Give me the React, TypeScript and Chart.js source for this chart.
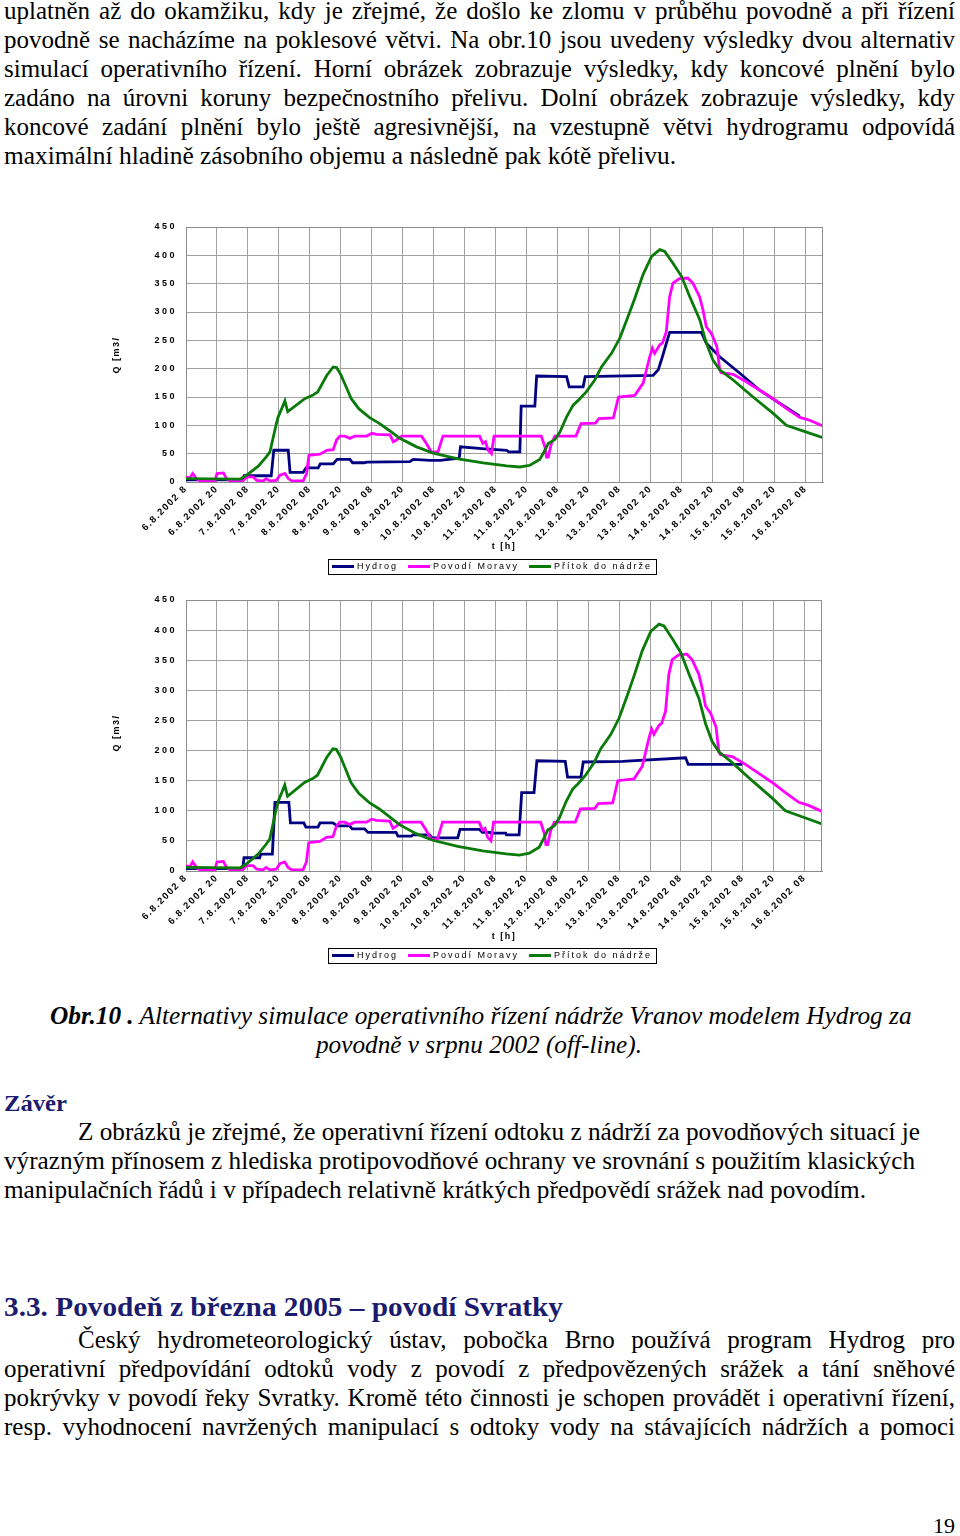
import React, { useEffect, useRef } from 'react';
import { Chart, registerables } from 'chart.js';

Chart.register(...registerables);

const SERIF = '"Liberation Serif", "Times New Roman", Times, serif';
const SANS = '"Liberation Sans", Arial, Helvetica, sans-serif';

// ---------------- chart data ----------------
const xTickLabels = [
  '6.8.2002 8', '6.8.2002 20', '7.8.2002 08', '7.8.2002 20', '8.8.2002 08', '8.8.2002 20',
  '9.8.2002 08', '9.8.2002 20', '10.8.2002 08', '10.8.2002 20', '11.8.2002 08', '11.8.2002 20',
  '12.8.2002 08', '12.8.2002 20', '13.8.2002 08', '13.8.2002 20', '14.8.2002 08', '14.8.2002 20',
  '15.8.2002 08', '15.8.2002 20', '16.8.2002 08',
];
const seriesNames = ['Hydrog', 'Povodí Moravy', 'Přítok do nádrže'];
const seriesColors = ['#000080', '#ff00ff', '#0a7a0a'];
const yAxisTitle = 'Q [m3/';
const xAxisTitle = 't [h]';
const yMax = 450;
const yStep = 50;
const hourStep = 12;
const hourMax = 246.7;

// Přítok do nádrže (inflow) – hours from 6.8.2002 8:00, Q [m3/s]
const inflowHours = [0, 10, 21, 23.5, 28, 31, 32.5, 35, 35.7, 37.4, 38.3, 39.4, 44, 46, 49, 51, 54.5, 57, 58.3, 60, 62, 64, 67, 71, 75, 79, 82.8, 89.3, 95.7, 105.4, 115.1, 124.2, 129.3, 133.2, 137, 139, 140.3, 142.9, 144.8, 147.4, 150, 151.9, 155, 158.3, 160.9, 164.8, 168, 171.2, 173.8, 177, 180.3, 183.5, 185.4, 188.6, 191.9, 195.1, 199, 201.5, 204.1, 206.7, 211.9, 219.6, 227.4, 232.5, 240.3, 246.7];
const inflowQ = [6, 5.5, 5, 12, 28, 44, 53, 103, 115, 133, 143, 124, 140, 147, 153, 159, 188, 203, 202, 189, 168, 147, 129, 114, 103, 90, 77, 62, 51, 41, 33.6, 28.3, 26.5, 29.5, 39.6, 56, 68, 75, 88, 115, 136, 144, 159, 180, 203, 227, 254, 292, 324, 366, 398, 410, 407, 386, 363, 327, 286, 245, 215, 198, 180, 150, 121, 100, 88, 78];

// Povodí Moravy
const moravaHours = [0, 1.5, 2.6, 4, 5.4, 11.2, 12, 14.5, 15.7, 17, 22, 23.5, 26, 27.4, 30, 31, 32.5, 35, 36.4, 38.3, 39.6, 41, 45.4, 46.7, 47.6, 51.9, 54.5, 57, 58.3, 59.6, 61.5, 63.5, 65.4, 70, 72, 73.8, 79, 80.3, 81.5, 83.5, 91.2, 93.1, 95, 97.6, 99.5, 113.7, 115, 116, 117, 118.3, 119.3, 137.6, 139, 139.6, 140.3, 141.5, 142.9, 151, 153, 158.6, 159.9, 165.5, 167.5, 173.8, 177, 179.6, 180.6, 181.5, 183.5, 184.5, 186, 187.3, 188.6, 191.1, 194.3, 196.3, 198.9, 200.2, 201.5, 203.5, 205.6, 206.7, 207.3, 211.9, 217, 222.2, 227.4, 232.5, 237.7, 241.5, 246.7];
const moravaQ = [9, 7, 15, 6, 2, 2, 15, 16, 6, 2, 2, 9, 9, 3, 2, 6, 2, 3, 12, 15, 6, 2, 2, 15, 47, 49, 56, 57, 74, 81, 81, 77, 81, 81, 86, 84, 83, 71, 74, 81, 81, 68, 53, 53, 81, 81, 68, 71, 56, 50, 81, 81, 62, 44, 44, 68, 81, 81, 103, 104, 112, 113, 150, 153, 174, 221, 236, 227, 242, 245, 265, 327, 351, 359, 360, 351, 327, 304, 274, 262, 239, 198, 193, 190, 177, 162, 147, 130, 114, 109, 99];

// Hydrog – upper figure
const hydrogTopHours = [0, 22, 22.5, 33, 34, 39.6, 40.3, 45.4, 46.5, 51.2, 52, 57, 58.5, 63.5, 64.5, 69, 70, 86.7, 88, 94.5, 98.4, 103.5, 105.8, 106.3, 114.5, 124.2, 125, 129.3, 129.8, 135.1, 135.8, 147.4, 148.4, 153.8, 154.6, 180.9, 182.9, 184.5, 187.3, 199.6, 201.5, 206.7, 214.5, 222.2, 229.9, 237.7];
const hydrogTopQ = [4, 4, 11, 11, 56, 56, 17, 17, 25, 25, 32, 32, 40, 40, 34, 34, 35, 36, 40, 38, 38, 41, 42, 62, 59, 56, 53, 53, 134, 134, 187, 186, 168, 168, 186, 188, 198, 221, 264, 264, 245, 221, 192, 162, 139, 116];

// Hydrog – lower figure
const hydrogBottomHours = [0, 22, 22.5, 28.6, 29, 33.5, 34.5, 39.9, 40.5, 45.7, 46.5, 51.2, 52, 57, 58.6, 63.5, 64.4, 69.3, 70.6, 81.5, 82.2, 87.4, 88, 94.5, 95.5, 105.4, 106.3, 113.8, 115, 118, 118.3, 124, 124.3, 129.2, 130.2, 135, 136.1, 147.1, 148, 153.2, 154.1, 169.3, 193.8, 194.8, 215.8];
const hydrogBottomQ = [4, 4, 22, 22, 28, 28, 114, 114, 80, 80, 73, 73, 80, 80, 75, 75, 70, 70, 64, 64, 58, 58, 60, 60, 55, 55, 69, 69, 64, 64, 63, 63, 60, 60, 130, 130, 183, 182, 156, 156, 181, 182, 188, 177, 177];

function pts(h: number[], q: number[]) {
  const n = Math.min(h.length, q.length);
  const out: { x: number; y: number }[] = [];
  for (let i = 0; i < n; i++) out.push({ x: h[i], y: q[i] });
  return out;
}

// ---------------- page text ----------------
type Seg = { t: string; b?: boolean; i?: boolean };
type TL = { segs: Seg[]; x: number; r: number; base: number; size: number; mode: 'justify' | 'fit'; color?: string };

const NAVY_TEXT = '#1c1c6e';

const textLines: TL[] = [
  { segs: [{ t: 'uplatněn až do okamžiku, kdy je zřejmé, že došlo ke zlomu v průběhu povodně a při řízení' }], x: 4, r: 955, base: 19, size: 25, mode: 'justify' },
  { segs: [{ t: 'povodně se nacházíme na poklesové větvi. Na obr.10 jsou uvedeny výsledky dvou alternativ' }], x: 4, r: 955, base: 48, size: 25, mode: 'justify' },
  { segs: [{ t: 'simulací operativního řízení. Horní obrázek zobrazuje výsledky, kdy koncové plnění bylo' }], x: 4, r: 955, base: 77, size: 25, mode: 'justify' },
  { segs: [{ t: 'zadáno na úrovni koruny bezpečnostního přelivu. Dolní obrázek zobrazuje výsledky, kdy' }], x: 4, r: 955, base: 105.5, size: 25, mode: 'justify' },
  { segs: [{ t: 'koncové zadání plnění bylo ještě agresivnější, na vzestupně větvi hydrogramu odpovídá' }], x: 4, r: 955, base: 134.5, size: 25, mode: 'justify' },
  { segs: [{ t: 'maximální hladině zásobního objemu a následně pak kótě přelivu.' }], x: 4, r: 676, base: 163.5, size: 25, mode: 'fit' },

  { segs: [{ t: 'Obr.10 .', b: true, i: true }, { t: ' Alternativy simulace operativního řízení nádrže Vranov modelem Hydrog za', i: true }], x: 50, r: 912, base: 1024, size: 25, mode: 'fit' },
  { segs: [{ t: 'povodně v srpnu 2002 (off-line).', i: true }], x: 316, r: 642, base: 1053, size: 25, mode: 'fit' },

  { segs: [{ t: 'Závěr', b: true }], x: 4, r: 67, base: 1111, size: 24, mode: 'fit', color: NAVY_TEXT },
  { segs: [{ t: 'Z obrázků je zřejmé, že operativní řízení odtoku z nádrží za povodňových situací je' }], x: 78, r: 920, base: 1140, size: 25, mode: 'fit' },
  { segs: [{ t: 'výrazným přínosem z hlediska protipovodňové ochrany ve srovnání s použitím klasických' }], x: 4, r: 915, base: 1169, size: 25, mode: 'fit' },
  { segs: [{ t: 'manipulačních řádů i v případech relativně krátkých předpovědí srážek nad povodím.' }], x: 4, r: 866, base: 1198, size: 25, mode: 'fit' },

  { segs: [{ t: '3.3. Povodeň z března 2005 – povodí Svratky', b: true }], x: 4, r: 563, base: 1317, size: 27, mode: 'fit', color: NAVY_TEXT },
  { segs: [{ t: 'Český hydrometeorologický ústav, pobočka Brno používá program Hydrog pro' }], x: 78, r: 955, base: 1348, size: 25, mode: 'justify' },
  { segs: [{ t: 'operativní předpovídání odtoků vody z povodí z předpovězených srážek a tání sněhové' }], x: 4, r: 955, base: 1377, size: 25, mode: 'justify' },
  { segs: [{ t: 'pokrývky v povodí řeky Svratky. Kromě této činnosti je schopen provádět i operativní řízení,' }], x: 4, r: 955, base: 1406, size: 25, mode: 'justify' },
  { segs: [{ t: 'resp. vyhodnocení navržených manipulací s odtoky vody na stávajících nádržích a pomoci' }], x: 4, r: 955, base: 1435, size: 25, mode: 'justify' },

  { segs: [{ t: '19' }], x: 933, r: 955, base: 1533, size: 22, mode: 'fit' },
];

let measureCtx: CanvasRenderingContext2D | null = null;
function measure(text: string, font: string) {
  if (!measureCtx) measureCtx = document.createElement('canvas').getContext('2d');
  if (!measureCtx) return text.length * 10;
  measureCtx.font = font;
  return measureCtx.measureText(text).width;
}
const fontOf = (s: Seg, size: number) => `${s.i ? 'italic ' : ''}${s.b ? 'bold ' : ''}${size}px ${SERIF}`;

function TextLineView({ line }: { line: TL }) {
  const natural = line.segs.reduce((acc, s) => acc + measure(s.t, fontOf(s, line.size)), 0);
  const target = line.r - line.x;
  let sx = natural > 0 ? target / natural : 1;
  let justify = false;
  if (line.mode === 'justify' && sx > 1) {
    sx = 1;
    justify = true;
  }
  const style: React.CSSProperties = {
    position: 'absolute',
    left: line.x,
    top: line.base - 0.8375 * line.size,
    fontFamily: SERIF,
    fontSize: line.size,
    lineHeight: `${line.size}px`,
    color: line.color ?? '#000',
    whiteSpace: justify ? 'normal' : 'nowrap',
    transform: `scaleX(${sx})`,
    transformOrigin: '0 0',
    width: justify ? target : undefined,
    textAlign: justify ? 'justify' : 'left',
    textAlignLast: justify ? 'justify' : undefined,
  };
  return (
    <div style={style}>
      {line.segs.map((s, i) => (
        <span key={i} style={{ fontWeight: s.b ? 'bold' : 'normal', fontStyle: s.i ? 'italic' : 'normal' }}>{s.t}</span>
      ))}
    </div>
  );
}

// ---------------- charts ----------------
type Box = {
  left: number; top: number; width: number; height: number;
  plotLeft: number; plotTop: number; plotRight: number; plotBottom: number;
  yTitleAt: [number, number]; xTitleAt: [number, number]; legendAt: [number, number];
};

const topBox: Box = {
  left: 100, top: 200, width: 740, height: 380,
  plotLeft: 86, plotTop: 27, plotRight: 723, plotBottom: 282,
  yTitleAt: [17, 155], xTitleAt: [404, 347], legendAt: [392, 366],
};
const bottomBox: Box = {
  left: 100, top: 573, width: 740, height: 395,
  plotLeft: 86, plotTop: 27, plotRight: 722, plotBottom: 298,
  yTitleAt: [17, 160], xTitleAt: [404, 364], legendAt: [392, 382],
};

function withSpacing(chart: any, scaleId: string, spacing: string) {
  const s = chart.scales && chart.scales[scaleId];
  if (!s || s.__spaced) return;
  const orig = s.drawLabels.bind(s);
  s.drawLabels = (area: any) => {
    const ctx = chart.ctx as any;
    const prev = ctx.letterSpacing;
    ctx.letterSpacing = spacing;
    orig(area);
    ctx.letterSpacing = prev;
  };
  s.__spaced = true;
}

function HydroChart({ box, hH, hQ }: { box: Box; hH: number[]; hQ: number[] }) {
  const ref = useRef<HTMLCanvasElement>(null);
  useEffect(() => {
    const canvas = ref.current;
    if (!canvas) return;
    const yTickFont = { family: SANS, size: 9, weight: 'bold' as const };
    const xTickFont = { family: SANS, size: 9.5, weight: 'bold' as const };
    const extras = {
      id: 'extras',
      beforeDraw(chart: any) {
        withSpacing(chart, 'x', '1.5px');
        withSpacing(chart, 'y', '2.5px');
      },
      afterDraw(chart: any) {
        const ctx = chart.ctx as any;
        const { left, top, right, bottom } = chart.chartArea;
        ctx.save();
        ctx.strokeStyle = '#8c8c8c';
        ctx.lineWidth = 1;
        ctx.beginPath();
        ctx.moveTo(left, top + 0.5);
        ctx.lineTo(right - 0.5, top + 0.5);
        ctx.lineTo(right - 0.5, bottom);
        ctx.stroke();

        ctx.letterSpacing = '1.5px';
        ctx.fillStyle = '#000';
        ctx.font = `bold 9px ${SANS}`;
        ctx.textAlign = 'center';
        ctx.textBaseline = 'middle';
        ctx.save();
        ctx.translate(box.yTitleAt[0], box.yTitleAt[1]);
        ctx.rotate(-Math.PI / 2);
        ctx.fillText(yAxisTitle, 0, 0);
        ctx.restore();
        ctx.fillText(xAxisTitle, box.xTitleAt[0], box.xTitleAt[1]);

        // legend
        ctx.letterSpacing = '2px';
        ctx.font = `9px ${SANS}`;
        ctx.textAlign = 'left';
        const sample = 22, gapA = 3, gapB = 10, pad = 4;
        const widths = seriesNames.map((n) => ctx.measureText(n).width);
        const total = pad * 2 + widths.reduce((s: number, w: number) => s + sample + gapA + w, 0) + gapB * (seriesNames.length - 1);
        let x = Math.round(box.legendAt[0] - total / 2);
        const cy = box.legendAt[1];
        ctx.strokeStyle = '#000';
        ctx.lineWidth = 1;
        ctx.strokeRect(x + 0.5, Math.round(cy - 7) + 0.5, Math.round(total), 15);
        x += pad;
        seriesNames.forEach((n, i) => {
          ctx.strokeStyle = seriesColors[i];
          ctx.lineWidth = 3;
          ctx.beginPath();
          ctx.moveTo(x, cy + 0.5);
          ctx.lineTo(x + sample, cy + 0.5);
          ctx.stroke();
          x += sample + gapA;
          ctx.fillText(n, x, cy + 1);
          x += widths[i] + gapB;
        });
        ctx.restore();
      },
    };

    const base = { borderWidth: 2.8, pointRadius: 0, pointHoverRadius: 0, tension: 0, fill: false };
    const chart = new Chart(canvas, {
      type: 'line',
      data: {
        datasets: [
          { ...base, label: seriesNames[0], data: pts(hH, hQ), borderColor: seriesColors[0], backgroundColor: seriesColors[0], order: 3 },
          { ...base, label: seriesNames[1], data: pts(moravaHours, moravaQ), borderColor: seriesColors[1], backgroundColor: seriesColors[1], order: 2 },
          { ...base, label: seriesNames[2], data: pts(inflowHours, inflowQ), borderColor: seriesColors[2], backgroundColor: seriesColors[2], order: 1 },
        ],
      },
      options: {
        animation: false,
        responsive: false,
        maintainAspectRatio: false,
        events: [],
        layout: { padding: { left: 0, top: box.plotTop, right: box.width - box.plotRight, bottom: 0 } },
        plugins: { legend: { display: false }, tooltip: { enabled: false }, title: { display: false } },
        scales: {
          x: {
            type: 'linear',
            min: 0,
            max: hourMax,
            afterFit: (s: any) => { s.height = box.height - box.plotBottom; },
            ticks: {
              stepSize: hourStep,
              autoSkip: false,
              minRotation: 45,
              maxRotation: 45,
              includeBounds: false,
              padding: 1,
              color: '#000',
              font: xTickFont,
              callback: (v: any) => {
                const idx = Math.round(Number(v) / hourStep);
                return xTickLabels[idx] ?? '';
              },
            },
            grid: { color: '#a0a0a0', lineWidth: 1, drawTicks: false },
            border: { color: '#8c8c8c' },
          },
          y: {
            min: 0,
            max: yMax,
            afterFit: (s: any) => { s.width = box.plotLeft; },
            ticks: { stepSize: yStep, padding: 9, color: '#000', font: yTickFont },
            grid: { color: '#a0a0a0', lineWidth: 1, drawTicks: false },
            border: { color: '#8c8c8c' },
          },
        },
      } as any,
      plugins: [extras as any],
    });
    return () => chart.destroy();
  }, [box, hH, hQ]);
  return (
    <canvas
      ref={ref}
      width={box.width}
      height={box.height}
      style={{ position: 'absolute', left: box.left, top: box.top, width: box.width, height: box.height }}
    />
  );
}

export default function App() {
  return (
    <div style={{ position: 'absolute', left: 0, top: 0, width: 960, height: 1536, background: '#fff', overflow: 'hidden' }}>
      {textLines.map((l, i) => <TextLineView key={i} line={l} />)}
      <HydroChart box={topBox} hH={hydrogTopHours} hQ={hydrogTopQ} />
      <HydroChart box={bottomBox} hH={hydrogBottomHours} hQ={hydrogBottomQ} />
    </div>
  );
}
